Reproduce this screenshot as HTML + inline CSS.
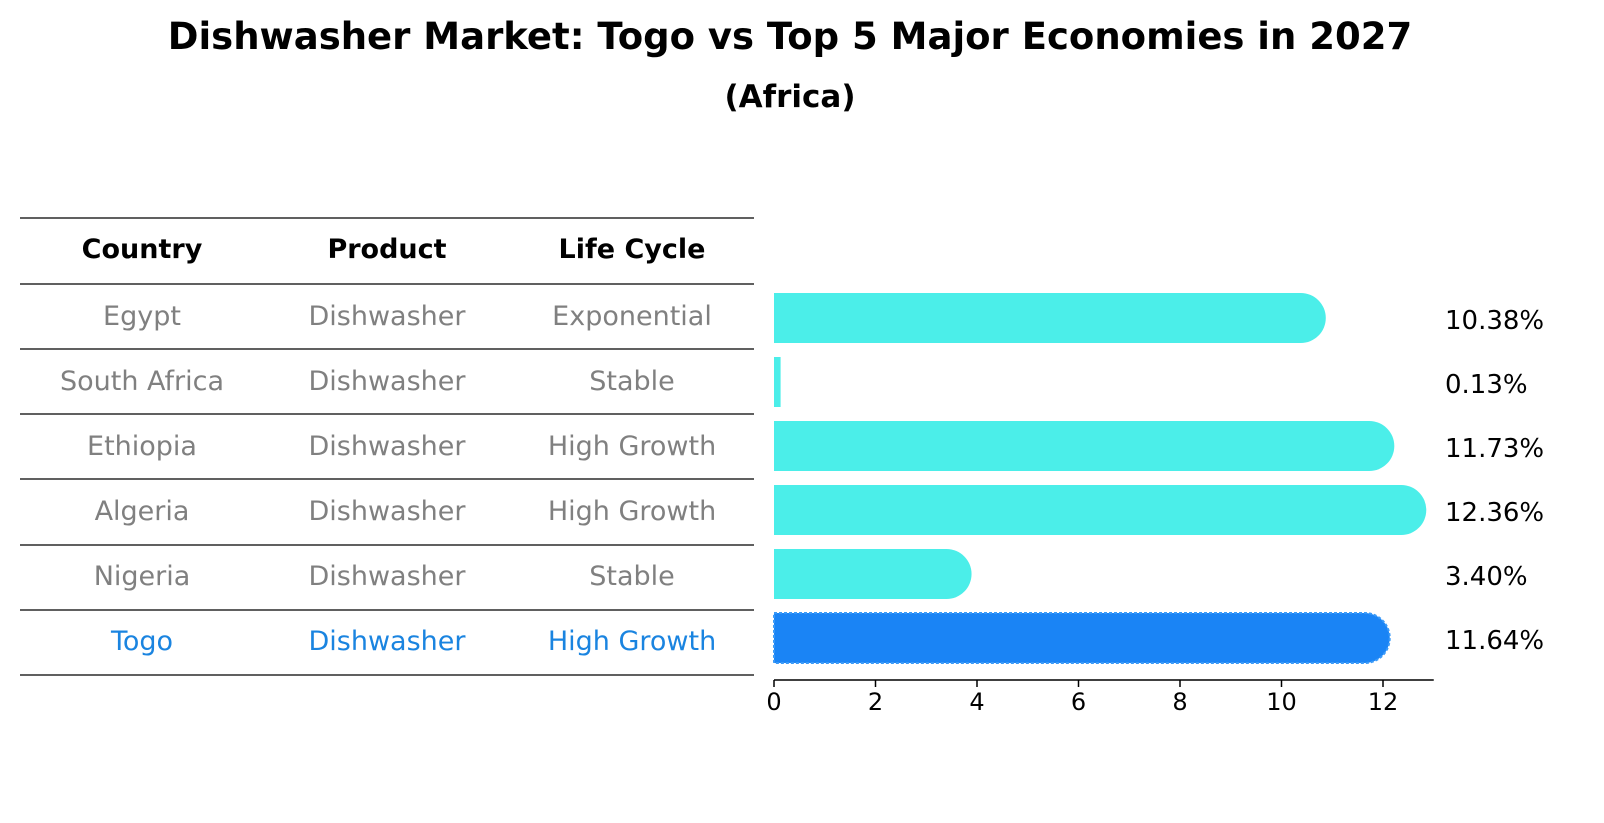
<!DOCTYPE html>
<html><head><meta charset="utf-8"><style>
html,body{margin:0;padding:0;overflow:hidden;background:#fff;font-family:"Liberation Sans","DejaVu Sans",sans-serif;}
svg{display:block;}
</style></head><body>
<svg width="1604" height="823" xmlns="http://www.w3.org/2000/svg" font-family="DejaVu Sans, Liberation Sans, sans-serif">
<text x="790" y="49" text-anchor="middle" font-size="37" font-weight="bold">Dishwasher Market: Togo vs Top 5 Major Economies in 2027</text>
<text x="790" y="107" text-anchor="middle" font-size="31" font-weight="bold">(Africa)</text>
<g id="table"></g>
<g id="bars"></g>
</svg>
<script>
const countries=["Egypt","South Africa","Ethiopia","Algeria","Nigeria","Togo"];
const products=["Dishwasher","Dishwasher","Dishwasher","Dishwasher","Dishwasher","Dishwasher"];
const lifecycles=["Exponential","Stable","High Growth","High Growth","Stable","High Growth"];
const values=[10.38,0.13,11.73,12.36,3.40,11.64];
const ticks=[0,2,4,6,8,10,12];
const NS="http://www.w3.org/2000/svg";
function mk(t,a,p){const e=document.createElementNS(NS,t);for(const k in a)e.setAttribute(k,a[k]);p.appendChild(e);return e;}
const tbl=document.getElementById('table'),bars=document.getElementById('bars');
const rowY=i=>316+i*65;
const colX=[142,387,632];
const lineY=[218,284,349,414,479,545,610,675];
lineY.forEach(y=>{const l=mk('line',{x1:20,x2:754,y1:y,y2:y,stroke:'#000','stroke-width':1.2},tbl);

});
["Country","Product","Life Cycle"].forEach((h,j)=>{const t=mk('text',{x:colX[j],y:258,'text-anchor':'middle','font-size':27,'font-weight':'bold'},tbl);t.textContent=h;

});
countries.forEach((c,i)=>{[c,products[i],lifecycles[i]].forEach((v,j)=>{const t=mk('text',{x:colX[j],y:rowY(i)+9,'text-anchor':'middle','font-size':27,fill:i===5?'#1a84e0':'#808080'},tbl);t.textContent=v;

});});
const x0=774,sc=50.75,xs=v=>x0+v*sc;
const barY=i=>318+i*64,h=50,r=25;
values.forEach((v,i)=>{const xe=xs(v),yc=barY(i),top=yc-h/2;let d;
if(xe-x0>r){d=`M${x0},${top}H${xe}A${r},${r} 0 0 1 ${xe},${top+h}H${x0}Z`;}else{d=`M${x0},${top}H${xe}V${top+h}H${x0}Z`;}
const last=i===values.length-1;
const p=mk('path',{d:d,fill:last?'#1a84f5':'#4beee9'},bars);
if(last){p.setAttribute('stroke','#3a9af8');p.setAttribute('stroke-width','2');p.setAttribute('stroke-dasharray','3,2');}


const t=mk('text',{x:1445,y:yc+11,'font-size':26},bars);t.textContent=v.toFixed(2)+'%';

});
const ax=mk('line',{x1:x0,x2:xs(13),y1:680,y2:680,stroke:'#000','stroke-width':1.5},bars);


ticks.forEach(tk=>{const l=mk('line',{x1:xs(tk),x2:xs(tk),y1:680,y2:687,stroke:'#000','stroke-width':1.5},bars);


const t=mk('text',{x:xs(tk),y:710,'text-anchor':'middle','font-size':24},bars);t.textContent=tk;

});
</script>
</body></html>
